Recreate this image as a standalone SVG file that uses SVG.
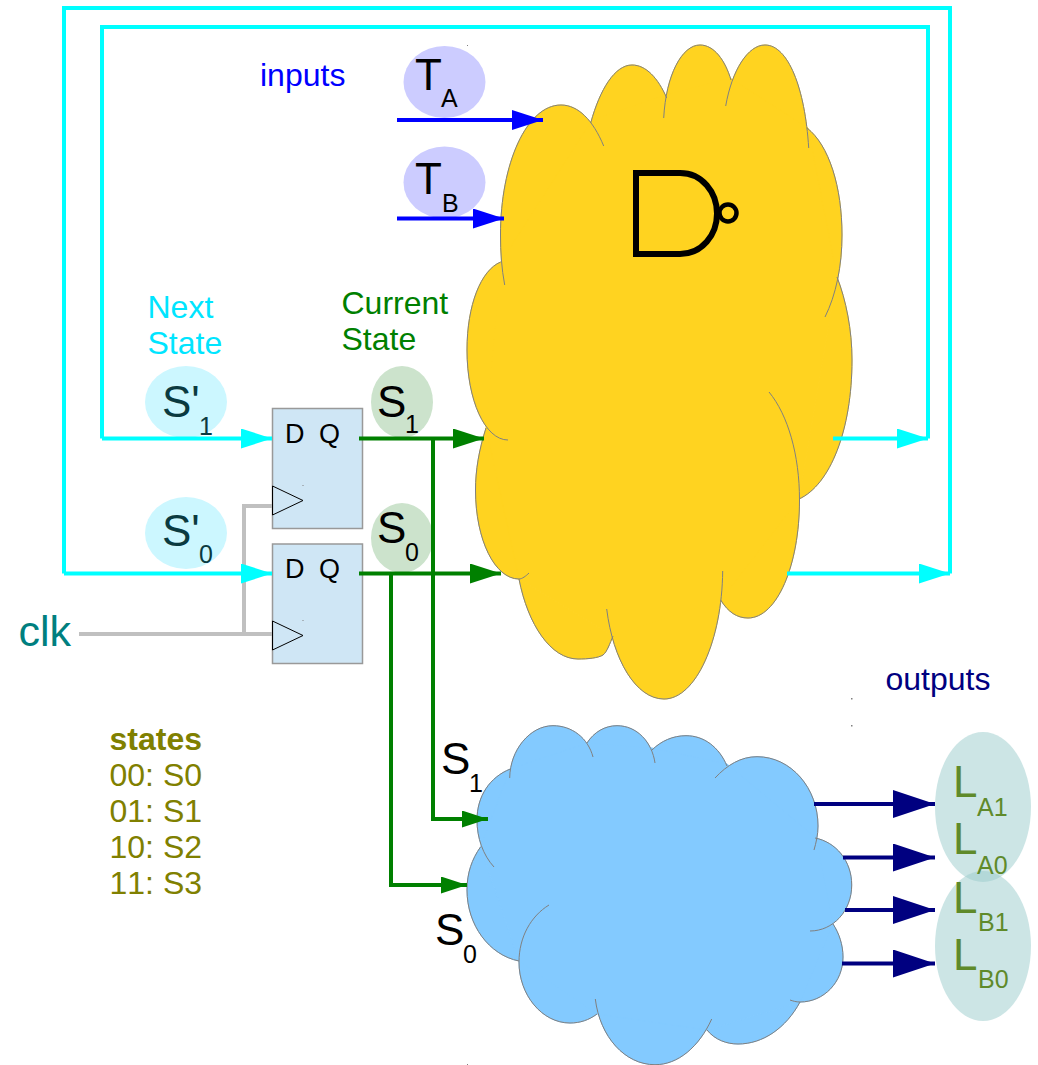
<svg xmlns="http://www.w3.org/2000/svg" width="1038" height="1065" viewBox="0 0 1038 1065">
<style>
text{font-family:"Liberation Sans",Arial,sans-serif;font-kerning:none}
.t32{font-size:32px}
.big{font-size:44px}
.sub{font-size:25px}
.dq{font-size:27px;fill:#000}
.ol{fill:#808000}
.gn{fill:#008000}
.lt{fill:#5f8a2a}
.dk{fill:#0a3a40}
.out{fill:none;stroke:#808080;stroke-width:1}
.w{fill:none;stroke-width:4;stroke-linejoin:miter}
.cy{stroke:#00ffff}
.gy{stroke:#c0c0c0}
.gr{stroke:#008000}
.bl{stroke:#0000ff}
.nv{stroke:#000080}
.lav{fill:#ccccff}
.cyl{fill:#ccf7ff}
.grl{fill:#cce3cc}
.tl{fill:#99cccc;fill-opacity:.5}
.ff{fill:#cfe6f5;stroke:#999;stroke-width:1.5}
.ck{fill:none;stroke:#000;stroke-width:1}
.dot{fill:#808080}
.yf{fill:#ffd320;stroke:#ffd320;stroke-width:1}
.bf{fill:#83caff;stroke:#83caff;stroke-width:1}
</style>
<defs>
<marker id="aC" markerUnits="userSpaceOnUse" markerWidth="31" markerHeight="20" refX="31" refY="10" orient="auto"><path d="M0,0L31,10L0,20Z" fill="#00ffff"/></marker>
<marker id="aB" markerUnits="userSpaceOnUse" markerWidth="31" markerHeight="20" refX="31" refY="10" orient="auto"><path d="M0,0L31,10L0,20Z" fill="#0000ff"/></marker>
<marker id="aG" markerUnits="userSpaceOnUse" markerWidth="31" markerHeight="20" refX="31" refY="10" orient="auto"><path d="M0,0L31,10L0,20Z" fill="#008000"/></marker>
<marker id="aGs" markerUnits="userSpaceOnUse" markerWidth="26" markerHeight="17" refX="26" refY="8.5" orient="auto"><path d="M0,0L26,8.5L0,17Z" fill="#008000"/></marker>
<marker id="aN" markerUnits="userSpaceOnUse" markerWidth="42" markerHeight="28" refX="42" refY="14" orient="auto"><path d="M0,0L42,14L0,28Z" fill="#000080"/></marker>
</defs>

<g id="cloud-yellow">
<path class="yf" d="M504.7,285C501.5,268 500.5,252 500.5,235C500.5,163 527,105 561,105C578,105 593,120 603.7,146ZM590.7,123C600,89 615,65 632,65C646,65 658,78 666.7,98ZM663.7,118C666,75 682,45 700,45C714,45 725,60 731,80ZM725.7,106C732,70 748,45 765,45C788,45 805,88 808.7,148ZM807,128C829,145 842,187 842,235C842,266 836,295 825,317ZM837,277C846,300 852,330 852,360C852,430 830,485 799,499ZM769,392C788,415 799.5,455 799.5,500C799.5,565 777,618 748,618C737,618 728,612 720.7,600ZM722.7,571C722,640 696,699 664,699C636,699 613,660 606.7,609ZM613,636C610,643 607,652 603,655C598,658 588,659 578,659C551,659 528,625 519,579Z"/>
<path class="yf" d="M486,428C479,450 475.5,470 475.5,490C475.5,540 495,579 519,579C522,579 526,576 529,573Z"/>
<path class="yf" d="M500.7,262C481,270 467,305 467,350C467,400 485,440 508,440Z"/>
<path class="yf" d="M501,262L592,120L665,95L730,78L808,128L837,277L799,499L721,600L613,636L519,579L486,428Z"/>
<path class="out" d="M504.7,285C501.5,268 500.5,252 500.5,235C500.5,163 527,105 561,105C578,105 593,120 603.7,146M590.7,123C600,89 615,65 632,65C646,65 658,78 666.7,98M663.7,118C666,75 682,45 700,45C714,45 725,60 731,80M725.7,106C732,70 748,45 765,45C788,45 805,88 808.7,148M807,128C829,145 842,187 842,235C842,266 836,295 825,317M837,277C846,300 852,330 852,360C852,430 830,485 799,499M769,392C788,415 799.5,455 799.5,500C799.5,565 777,618 748,618C737,618 728,612 720.7,600M722.7,571C722,640 696,699 664,699C636,699 613,660 606.7,609M613,636C610,643 607,652 603,655C598,658 588,659 578,659C551,659 528,625 519,579M486,428C479,450 475.5,470 475.5,490C475.5,540 495,579 519,579C522,579 526,576 529,573M500.7,262C481,270 467,305 467,350C467,400 485,440 508,440"/>
<path d="M636,173H680C702,173 717,192 717,213.500C717,235 702,254 680,254H636Z" fill="none" stroke="#000" stroke-width="6"/>
<circle cx="728" cy="213" r="8.500" fill="none" stroke="#000" stroke-width="4.500"/>
</g>

<g id="cloud-blue">
<path class="bf" d="M519,961C489,955 467,925 467,890C467,873 472,859 480.5,847ZM494,867C483,855 477,838 477,820C477,796 490,777 510.3,769ZM509.7,778C510,750 530,725.7 553,725.7C572,725.7 588,738 593,757ZM587,743C594,732 605,725.7 617,725.7C637,725.7 652,742 655,763ZM652,750C661,741 673,735.7 686,735.7C704,735.7 719,747 727,766ZM715,778C727,765 741,756.7 757,756.7C791,756.7 818,788 818,826C818,835 816,843 814,850ZM815,838C836,842 851.7,861 851.7,885C851.7,911 833,931 810,931ZM833,924C839,933 843,945 843,957C843,982 824,1002 800,1002C796,1002 793,1001 790,1000ZM800,1002C786,1028 763,1044 738,1044C727,1044 715,1040 707,1030ZM711.7,1019C699,1047 678,1064.7 655,1064.7C625,1064.7 600,1037 595.3,999ZM597,1014C589,1020 580,1023 570,1023C542,1023 519,995 519,962C519,937 531,916 549,905Z"/>
<path class="bf" d="M519,961L480.500,847L510,769L587,743L652,748L727,764L816,838L833,924L800,1002L707,1030L597,1014Z"/>
<path class="out" d="M519,961C489,955 467,925 467,890C467,873 472,859 480.5,847M494,867C483,855 477,838 477,820C477,796 490,777 510.3,769M509.7,778C510,750 530,725.7 553,725.7C572,725.7 588,738 593,757M587,743C594,732 605,725.7 617,725.7C637,725.7 652,742 655,763M652,750C661,741 673,735.7 686,735.7C704,735.7 719,747 727,766M715,778C727,765 741,756.7 757,756.7C791,756.7 818,788 818,826C818,835 816,843 814,850M815,838C836,842 851.7,861 851.7,885C851.7,911 833,931 810,931M833,924C839,933 843,945 843,957C843,982 824,1002 800,1002C796,1002 793,1001 790,1000M800,1002C786,1028 763,1044 738,1044C727,1044 715,1040 707,1030M711.7,1019C699,1047 678,1064.7 655,1064.7C625,1064.7 600,1037 595.3,999M597,1014C589,1020 580,1023 570,1023C542,1023 519,995 519,962C519,937 531,916 549,905"/>
</g>

<g id="bubbles">
<ellipse class="lav" cx="444.5" cy="82" rx="41" ry="36"/>
<ellipse class="lav" cx="444.5" cy="182.5" rx="41" ry="36"/>
<ellipse class="cyl" cx="186" cy="402" rx="41" ry="36"/>
<ellipse class="cyl" cx="186" cy="533" rx="41" ry="36"/>
<ellipse class="grl" cx="402" cy="402" rx="31" ry="36"/>
<ellipse class="grl" cx="402" cy="538" rx="31" ry="35"/>
<ellipse class="tl" cx="983" cy="807" rx="48" ry="75"/>
<ellipse class="tl" cx="983" cy="946" rx="48" ry="75"/>
</g>

<g id="ff1">
<rect class="ff" x="272.5" y="408.5" width="90" height="120"/>
<path class="ck" d="M272.5,486L303,500.500L272.500,515Z"/>
<text class="dq" x="285" y="443">D</text><text class="dq" x="319" y="443">Q</text>
</g>
<g id="ff2">
<rect class="ff" x="272.5" y="544" width="90" height="119.500"/>
<path class="ck" d="M272.5,621L303,635.500L272.500,650Z"/>
<text class="dq" x="285" y="578">D</text><text class="dq" x="319" y="578">Q</text>
</g>

<g id="connectors">
<path class="w gy" d="M79,634H272M244,634V506H272"/>
<path class="w cy" d="M64,573.500V8H950V573.500"/>
<path class="w cy" d="M102,438.500V27H928V438.500"/>
<path class="w cy" marker-end="url(#aC)" d="M102,438.500H272"/>
<path class="w cy" marker-end="url(#aC)" d="M64,573.500H272"/>
<path class="w cy" marker-end="url(#aC)" d="M833,438.500H928"/>
<path class="w cy" marker-end="url(#aC)" d="M787,573.500H950"/>
<path class="w bl" marker-end="url(#aB)" d="M397,120H543"/>
<path class="w bl" marker-end="url(#aB)" d="M397,218.500H504"/>
<path class="w gr" marker-end="url(#aG)" d="M359,438.500H484"/>
<path class="w gr" marker-end="url(#aG)" d="M359,573.500H501"/>
<path class="w gr" marker-end="url(#aGs)" d="M433,438.500V819H488"/>
<path class="w gr" marker-end="url(#aGs)" d="M391,573.500V885H467"/>
<path class="w nv" marker-end="url(#aN)" d="M814,804H935"/>
<path class="w nv" marker-end="url(#aN)" d="M843,857.500H935"/>
<path class="w nv" marker-end="url(#aN)" d="M845,910H935"/>
<path class="w nv" marker-end="url(#aN)" d="M842,963.500H935"/>
</g>

<g id="labels">
<text class="t32" x="260" y="86" fill="#0000ff">inputs</text>
<text class="big" x="415" y="90">T</text><text class="sub" x="441" y="107">A</text>
<text class="big" x="415" y="194">T</text><text class="sub" x="442" y="212">B</text>
<text class="t32" x="147.500" y="318" fill="#00e5ff">Next</text>
<text class="t32" x="147.500" y="354" fill="#00e5ff">State</text>
<text class="t32 gn" x="341.500" y="314">Current</text>
<text class="t32 gn" x="341.500" y="350">State</text>
<text class="big dk" x="162" y="417">S'</text><text class="sub dk" x="199" y="435">1</text>
<text class="big dk" x="162" y="546">S'</text><text class="sub dk" x="199" y="563">0</text>
<text class="big" x="377" y="417">S</text><text class="sub" x="405" y="433">1</text>
<text class="big" x="377" y="543">S</text><text class="sub" x="405" y="561">0</text>
<text class="big" x="441" y="774">S</text><text class="sub" x="469" y="792">1</text>
<text class="big" x="435" y="945">S</text><text class="sub" x="463" y="963">0</text>
<text class="big" x="18.500" y="646" style="font-size:43px" fill="#007f7f">clk</text>
<text class="t32 ol" x="109.500" y="750" font-weight="bold">states</text>
<text class="t32 ol" x="109.500" y="786">00: S0</text>
<text class="t32 ol" x="109.500" y="822">01: S1</text>
<text class="t32 ol" x="109.500" y="858">10: S2</text>
<text class="t32 ol" x="109.500" y="894">11: S3</text>
<text class="t32" x="885.500" y="690" fill="#000080">outputs</text>
<text class="big lt" x="953" y="797">L</text><text class="sub lt" x="977" y="816">A1</text>
<text class="big lt" x="953" y="854">L</text><text class="sub lt" x="977" y="874">A0</text>
<text class="big lt" x="953" y="913">L</text><text class="sub lt" x="978" y="931">B1</text>
<text class="big lt" x="953" y="970">L</text><text class="sub lt" x="978" y="988">B0</text>
</g>

<g id="specks">
<rect class="dot" x="467" y="45" width="1" height="1"/>
<rect class="dot" x="851" y="698" width="1.500" height="1.500"/>
<rect class="dot" x="851" y="725" width="1.500" height="1.500"/>
<rect class="dot" x="467" y="1064" width="1" height="1"/>
<rect class="dot" x="302.500" y="485" width="1" height="1"/>
<rect class="dot" x="302.500" y="620" width="1" height="1"/>
</g>
</svg>
